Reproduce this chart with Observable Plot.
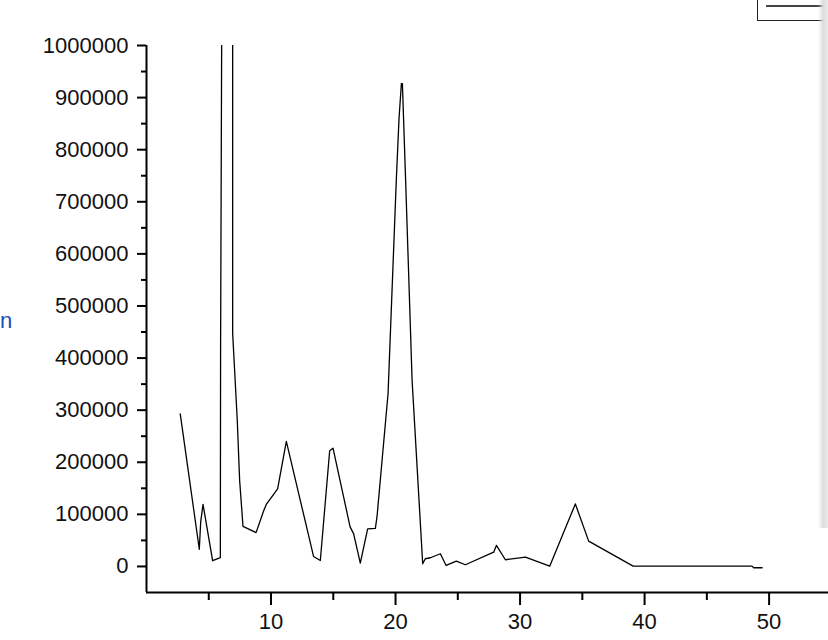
<!DOCTYPE html>
<html>
<head>
<meta charset="utf-8">
<script src="https://cdn.jsdelivr.net/npm/d3@7"></script>
<script src="https://cdn.jsdelivr.net/npm/@observablehq/plot@0.6"></script>
<style>
  html, body { margin: 0; padding: 0; background: #fff; }
  body { width: 828px; height: 640px; overflow: hidden; position: relative; font-family: "Liberation Sans", Arial, sans-serif; }
  #chart { position: absolute; left: 0; top: 0; }
  #shadow { position: absolute; left: 818px; top: 0; width: 10px; height: 528px;
            background: linear-gradient(to right, rgba(255,255,255,0), #dcdcdc 55%, #ececec); }
  #legend { position: absolute; left: 757px; top: -3px; width: 90px; height: 22px; border: 1.5px solid #222; background: #fff; }
  #legend .swatch { position: absolute; left: 8px; top: 7px; width: 62px; height: 2px; background: #444; }
  #ylab { position: absolute; left: 0px; top: 310px; font-size: 22px; line-height: 22px; color: #1a4fb5; }
</style>
</head>
<body>
<div id="chart"></div>
<div id="legend"><div class="swatch"></div></div>
<div id="shadow"></div>
<div id="ylab">n</div>
<script>
const xValues = [2.71, 4.24, 4.35, 4.54, 5.31, 5.93, 5.95, 6.06, 6.92, 6.92, 7.29, 7.48, 7.75, 8.80, 9.41, 9.62, 10.53, 11.23,
  13.42, 13.96, 14.71, 14.98, 16.35, 16.63, 17.17, 17.76, 18.38, 18.51, 19.40, 20.06, 20.28, 20.47, 20.55, 20.81, 21.33,
  22.18, 22.39, 22.80, 23.60, 24.06, 24.88, 25.61, 27.88, 28.10, 28.82, 30.43, 32.38, 34.44, 35.51, 39.08, 48.63, 48.76, 49.44];
const yValues = [293000, 33000, 85000, 119000, 11000, 17000, 418000, 1170000, 1170000, 447000, 280000, 165000, 77000, 65000, 107000, 119000, 149000, 240000,
  19000, 11500, 222000, 227000, 76000, 63000, 6300, 72000, 73000, 95000, 332000, 741000, 860000, 927000, 927000, 741000, 357000,
  5200, 14800, 16700, 24400, 1900, 10200, 3300, 27400, 40300, 12900, 17900, 600, 120000, 48600, 600, 600, -2500, -2500];
const xMajorTicks = [10, 20, 30, 40, 50];
const xMinorTicks = [5, 15, 25, 35, 45];
const yMajorTicks = [0, 100000, 200000, 300000, 400000, 500000, 600000, 700000, 800000, 900000, 1000000];
const yMinorTicks = [50000, 150000, 250000, 350000, 450000, 550000, 650000, 750000, 850000, 950000];

const data = xValues.map((x, i) => ({x, y: yValues[i]}));

const chart = Plot.plot({
  width: 828,
  height: 640,
  marginLeft: 146,
  marginRight: 0,
  marginTop: 45,
  marginBottom: 48,
  x: {domain: [0, 54.77], label: null},
  y: {domain: [-50000, 1000000], label: null},
  style: {fontFamily: "'Liberation Sans', Arial, sans-serif", fontSize: "22px", color: "#000", background: "#fff", overflow: "visible"},
  marks: [
    Plot.line(data, {x: "x", y: "y", stroke: "#000", strokeWidth: 1.3, clip: true}),
    Plot.axisY(yMajorTicks, {tickSize: 9, tickPadding: 9, strokeWidth: 2, stroke: "#000", fill: "#111", tickFormat: d => String(d), label: null, fontSize: 22}),
    Plot.axisY(yMinorTicks, {tickSize: 5, strokeWidth: 2, stroke: "#000", tickFormat: () => "", label: null}),
    Plot.axisX(xMajorTicks, {tickSize: 13, tickPadding: 8, strokeWidth: 2, stroke: "#000", fill: "#111", tickFormat: d => String(d), label: null, fontSize: 22}),
    Plot.axisX(xMinorTicks, {tickSize: 8, strokeWidth: 2, stroke: "#000", tickFormat: () => "", label: null}),
    Plot.ruleX([0], {stroke: "#000", strokeWidth: 2}),
    Plot.ruleY([-50000], {stroke: "#000", strokeWidth: 2})
  ]
});
document.getElementById("chart").appendChild(chart);
</script>
</body>
</html>
